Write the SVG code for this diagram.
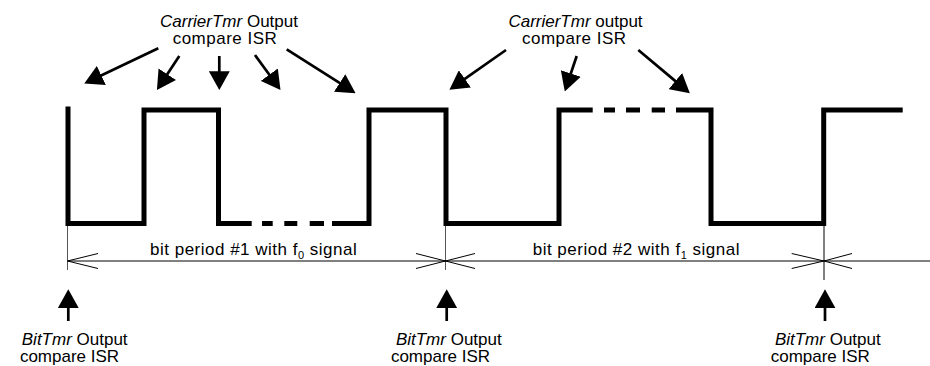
<svg xmlns="http://www.w3.org/2000/svg" width="930" height="366" viewBox="0 0 930 366">
<style>
text{font-family:"Liberation Sans",Arial,sans-serif;font-size:17px;fill:#000}
.it{font-style:italic}
.c{text-anchor:middle}
.sp{letter-spacing:0.5px}
.wave{fill:none;stroke:#000;stroke-width:5;stroke-linejoin:miter;stroke-linecap:butt}
.arr{stroke:#000;stroke-width:2.7;fill:none;marker-end:url(#ah)}
.dim{stroke:#000;stroke-width:1;fill:none}
.ext{stroke:#555;stroke-width:1;fill:none}
</style>
<defs>
<marker id="ah" markerUnits="userSpaceOnUse" markerWidth="19" markerHeight="21" viewBox="0 0 18 20" refX="3" refY="10" orient="auto">
<path d="M0,0 L18,10 L0,20 z" fill="#000"/>
</marker>
</defs>
<g id="waveform">
<path class="wave" d="M68,106.5 V223.5 H144 V110 H218.5 V223.5 H251.7 M262,223.5 H272.7 M284.3,223.5 H297.3 M309.7,223.5 H324 M332,223.5 H369 V110 H446 V223.5 H559 V110 H592.7 M604,110 H615 M626,110 H640 M651.7,110 H665 M676,110 H711 V223.5 H823.7 V110 H902.7"/>
</g>
<g id="carrier-label-1">
<text class="c"><tspan x="229" y="26.5"><tspan class="it">CarrierTmr</tspan> Output</tspan><tspan class="sp" x="225" y="44">compare ISR</tspan></text>
</g>
<g id="carrier-label-2">
<text class="c"><tspan x="575.5" y="26.5"><tspan class="it">CarrierTmr</tspan> output</tspan><tspan class="sp" x="574.3" y="44">compare ISR</tspan></text>
</g>
<g id="bit-label-1">
<text class="c"><tspan x="74.7" y="345"><tspan class="it">BitTmr</tspan> Output</tspan><tspan x="69.5" y="362">compare ISR</tspan></text>
</g>
<g id="bit-label-2">
<text class="c"><tspan x="448.8" y="345"><tspan class="it">BitTmr</tspan> Output</tspan><tspan x="440.5" y="362">compare ISR</tspan></text>
</g>
<g id="bit-label-3">
<text class="c"><tspan x="827.8" y="345"><tspan class="it">BitTmr</tspan> Output</tspan><tspan x="820.3" y="362">compare ISR</tspan></text>
</g>
<g id="period-1">
<text class="sp" x="150" y="255">bit period #1 with f<tspan font-size="11" dy="4">0</tspan><tspan dy="-4"> signal</tspan></text>
</g>
<g id="period-2">
<text class="sp" x="532.7" y="254.5">bit period #2 with f<tspan font-size="11" dy="4">1</tspan><tspan dy="-4"> signal</tspan></text>
</g>
<g id="connectors">
<line class="arr" x1="158.3" y1="48.3" x2="98.5" y2="76.8"/>
<line class="arr" x1="179.3" y1="56" x2="165.6" y2="76.8"/>
<line class="arr" x1="219.3" y1="56" x2="219.3" y2="74.3"/>
<line class="arr" x1="255" y1="55" x2="271.2" y2="77.2"/>
<line class="arr" x1="286.7" y1="49.3" x2="342.3" y2="84.7"/>
<line class="arr" x1="506" y1="50" x2="462.3" y2="80.7"/>
<line class="arr" x1="576.7" y1="56" x2="569.8" y2="76.5"/>
<line class="arr" x1="638.3" y1="50" x2="677.8" y2="83.1"/>
<line class="arr" x1="68.3" y1="321" x2="68.3" y2="305"/>
<line class="arr" x1="446.7" y1="321" x2="446.7" y2="305"/>
<line class="arr" x1="825" y1="321" x2="825" y2="305"/>
<line class="ext" x1="67.5" y1="226" x2="67.5" y2="270"/>
<line class="ext" x1="445.5" y1="226" x2="445.5" y2="270"/>
<line class="dim" x1="824" y1="226" x2="824" y2="280" stroke-width="1.8"/>
<line class="dim" x1="67.5" y1="261" x2="930" y2="261"/>
<path class="dim" d="M98,253.5 L67.5,261 L98,268.5 M416,253.5 L445.5,261 L416,268.5 M475,253.5 L445.5,261 L475,268.5 M791.7,253.5 L824,261 L791.7,268.5 M852,253.5 L824,261 L852,268.5"/>
</g>
</svg>
